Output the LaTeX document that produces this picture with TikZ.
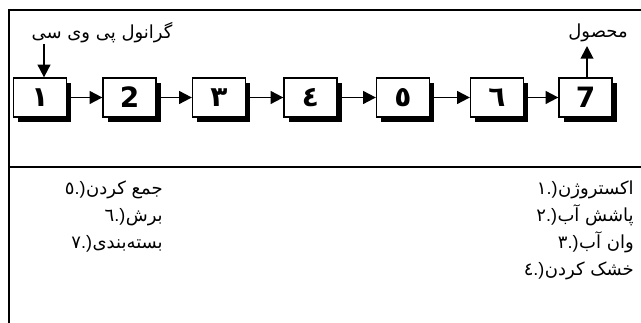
\documentclass[tikz,border=0pt]{standalone}
\usepackage{fontspec}
\usetikzlibrary{arrows.meta,shadows}
\TeXXeTstate=1
\newfontfamily\arabicfont[Script=Arabic]{DejaVu Sans}
\newfontfamily\arabicbold[Script=Arabic]{DejaVu Sans Bold}
\newfontfamily\latinfont{Liberation Sans}
\newcommand\legnum[1]{{\arabicfont #1}{\latinfont .)}}
\tikzset{
  frame/.style={line width=1.65pt},
  stepbox/.style={draw, line width=0.95pt, fill=white, minimum width=39.75pt, minimum height=29.25pt,
    inner sep=0pt, font=\arabicbold\fontsize{21}{21}\selectfont,
    drop shadow={shadow xshift=3.4pt, shadow yshift=-3.4pt, fill=black, opacity=1}},
  flow/.style={line width=1.4pt, -{Triangle[length=9.5pt,width=9.5pt]}},
  lbl/.style={font=\arabicfont\fontsize{13.5}{15}\selectfont, inner sep=0pt},
  itemr/.style={lbl, anchor=base east},
}
\begin{document}
\begin{tikzpicture}[x=0.75pt,y=-0.75pt]
\useasboundingbox (0,0) rectangle (641,323);
% frame
\coordinate (tl) at (9,10);
\coordinate (tr) at (641,10);
\coordinate (bl) at (9,323);
\coordinate (dl) at (9,167);
\coordinate (dr) at (641,167);
\draw[frame] (tr) -- (tl) -- (bl);
\draw[frame] (dl) -- (dr);
% boxes
\node[stepbox] (b1) at (40,97.5) {١};
\node[stepbox] (b2) at (129.5,97.5) {2};
\node[stepbox] (b3) at (219,97.5) {٣};
\node[stepbox] (b4) at (310.5,97.5) {٤};
\node[stepbox] (b5) at (403,97.5) {٥};
\node[stepbox] (b6) at (497,97.5) {٦};
\node[stepbox] (b7) at (585.5,97.5) {7};
\foreach \a/\b in {b1/b2,b2/b3,b3/b4,b4/b5,b5/b6,b6/b7}
  \draw[flow] (\a.east) -- (\b.west);
% input / output
\node[lbl] (inlbl) at (102,33) {\beginR گرانول پی وی سی\endR};
\coordinate (in) at (44,44);
\draw[flow] (in) -- (in |- b1.north);
\node[lbl] (outlbl) at (598,33) {\beginR محصول\endR};
\coordinate (out) at (587,46);
\draw[flow] (out |- b7.north) -- (out);
% legend: words
\node[itemr] (w1) at (634,195) {\beginR اکستروژن\endR};
\node[itemr] (w2) at (634,222) {\beginR پاشش آب\endR};
\node[itemr] (w3) at (634,249) {\beginR وان آب\endR};
\node[itemr] (w4) at (634,276) {\beginR خشک کردن\endR};
\node[itemr] (w5) at (163,195) {\beginR جمع کردن\endR};
\node[itemr] (w6) at (163,222) {\beginR برش\endR};
\node[itemr] (w7) at (163,249) {\beginR بسته‌بندی\endR};
% legend: numbers
\node[itemr] (n1) at (w1.base west) {\legnum{١}};
\node[itemr] (n2) at (w2.base west) {\legnum{٢}};
\node[itemr] (n3) at (w3.base west) {\legnum{٣}};
\node[itemr] (n4) at (w4.base west) {\legnum{٤}};
\node[itemr] (n5) at (w5.base west) {\legnum{٥}};
\node[itemr] (n6) at (w6.base west) {\legnum{٦}};
\node[itemr] (n7) at (w7.base west) {\legnum{٧}};
\end{tikzpicture}
\end{document}
